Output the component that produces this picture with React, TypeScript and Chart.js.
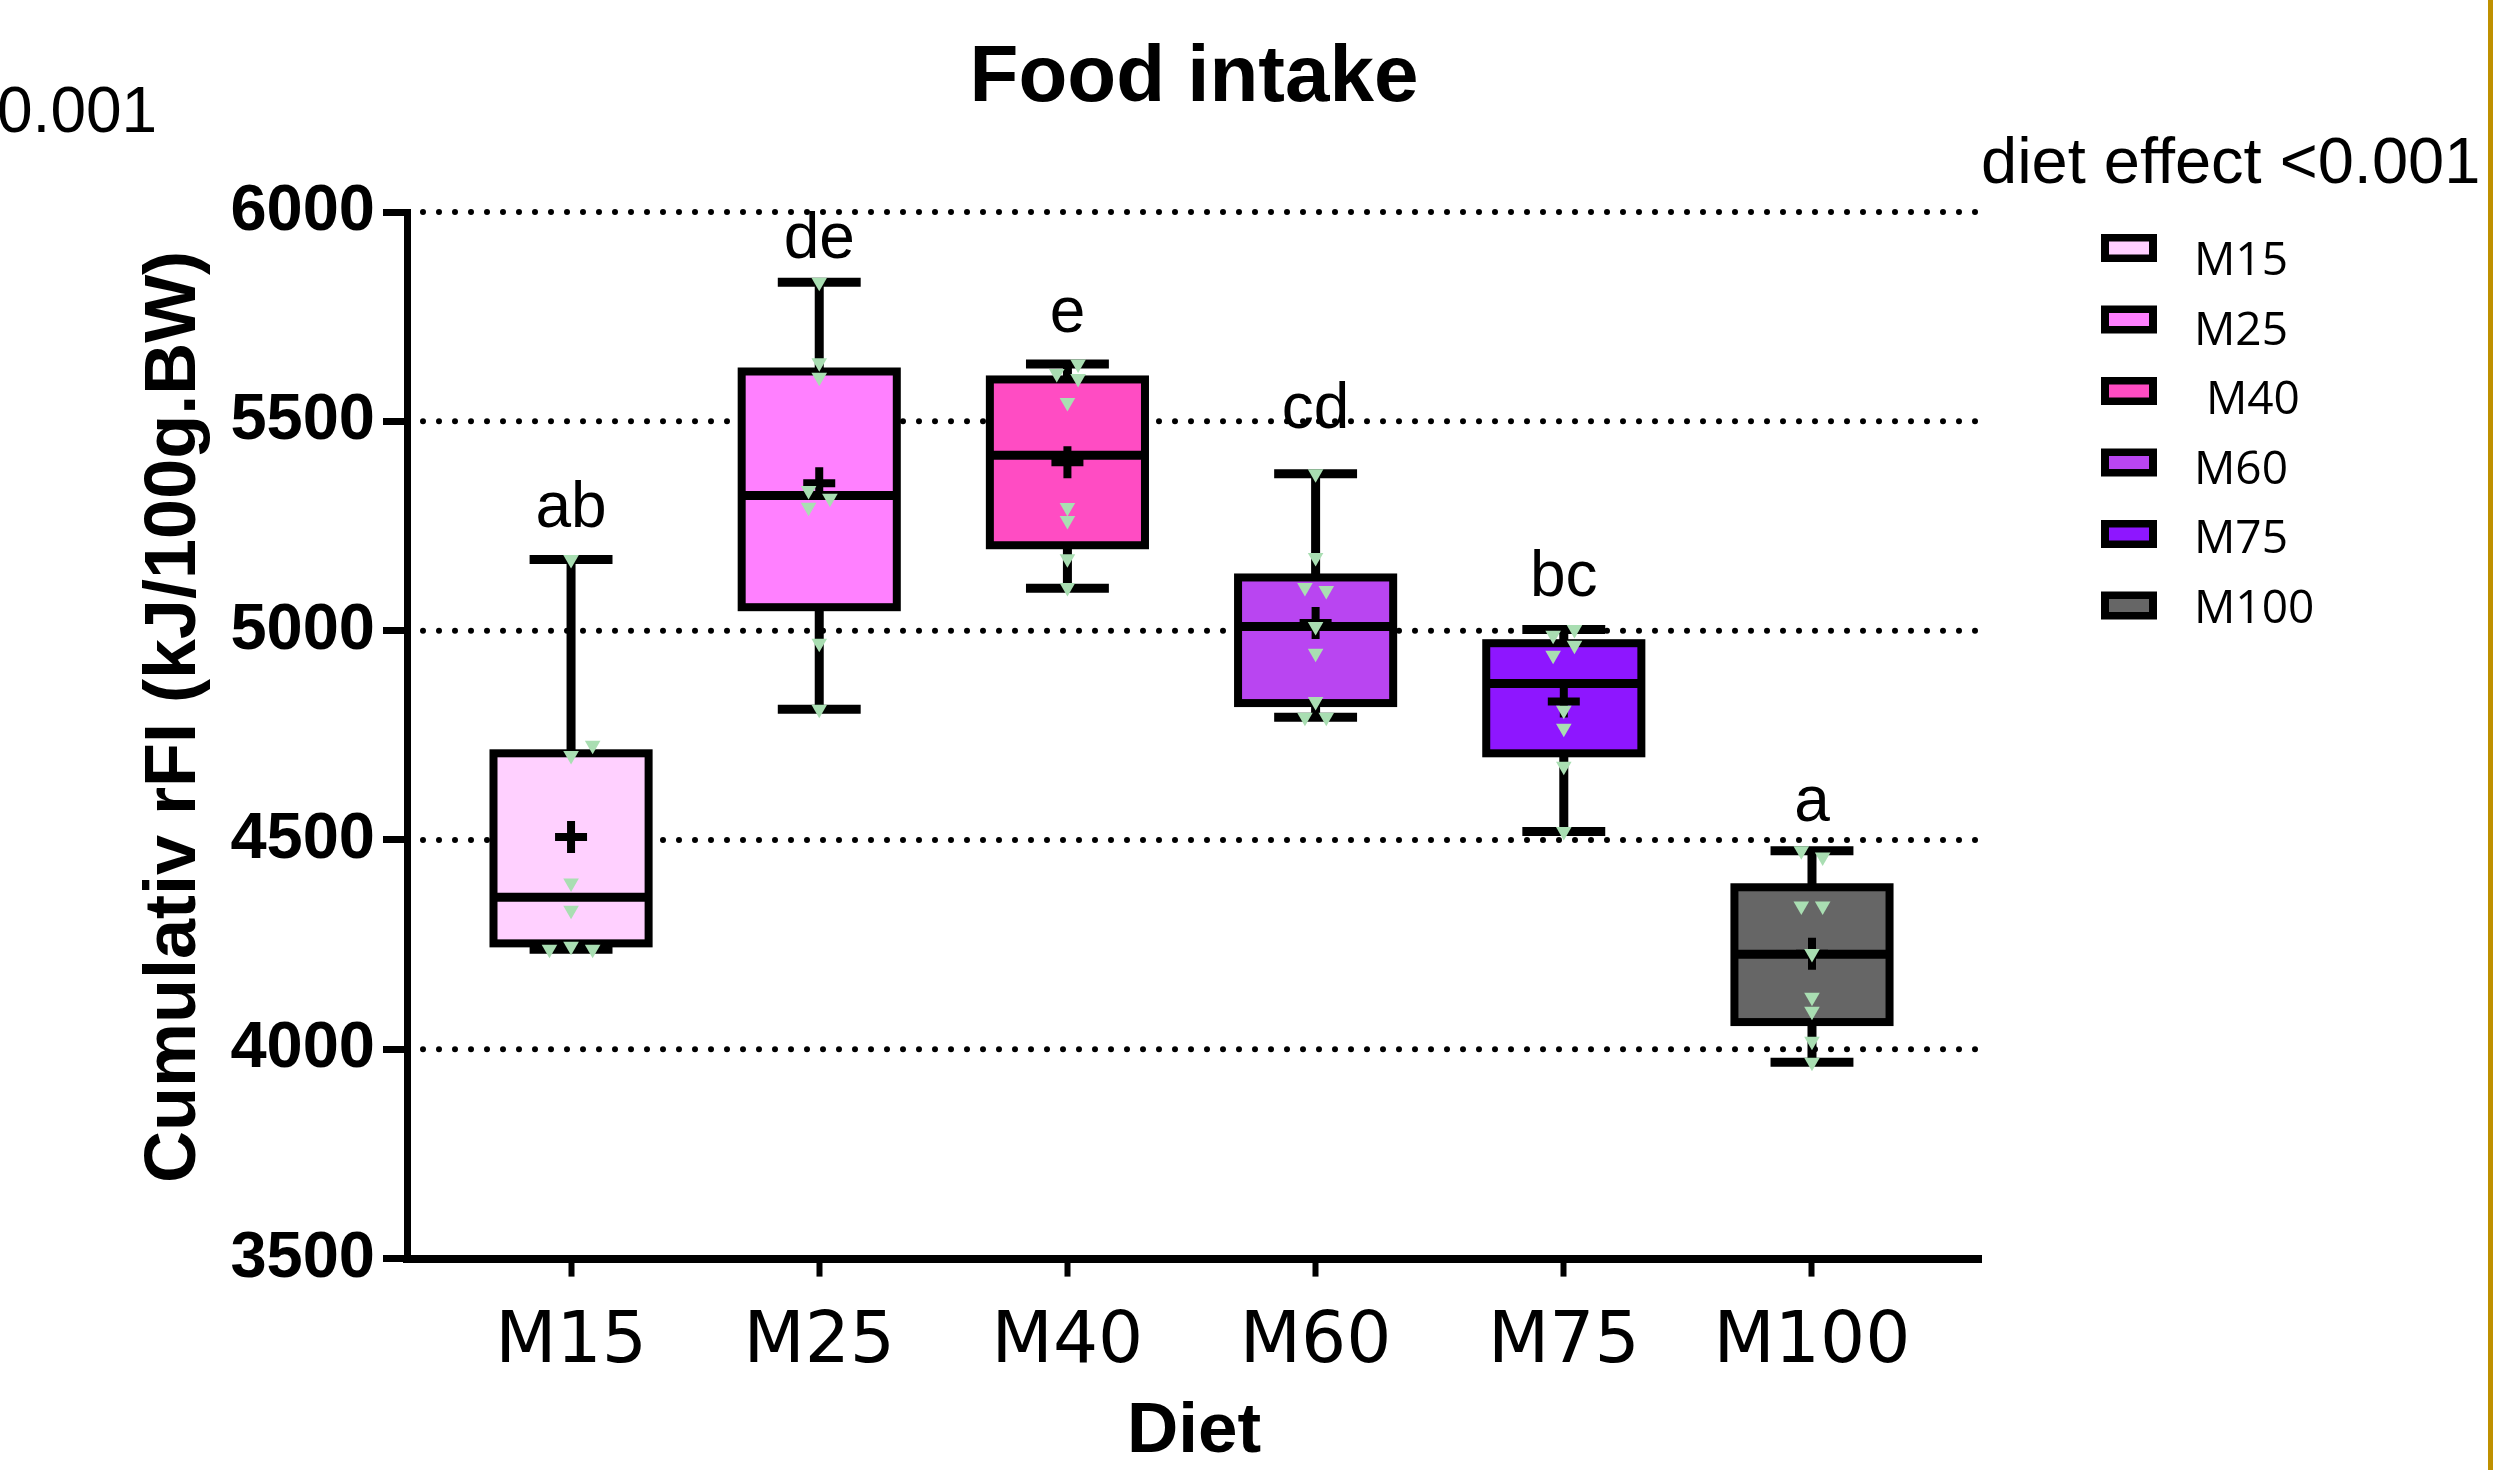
import React, { useEffect, useRef } from 'react';
import { Chart, registerables } from 'chart.js';

Chart.register(...registerables);

// ---------- data ----------
const categories = ['M15', 'M25', 'M40', 'M60', 'M75', 'M100'];
const legendLabels = ['M15', 'M25', ' M40', 'M60', 'M75', 'M100'];
const boxColors = ['#FFD0FF', '#FF80FF', '#FF4CC3', '#B945F1', '#8E16FF', '#666666'];

const whiskerMin = [4239, 4812, 5101, 4793, 4520, 3969];
const quartile1 = [4253, 5056, 5204, 4827, 4707, 4065];
const medians = [4363, 5323, 5419, 5010, 4874, 4227];
const quartile3 = [4707, 5619, 5600, 5127, 4970, 4387];
const whiskerMax = [5170, 5832, 5637, 5375, 5003, 4474];
const means = [4507, 5352, 5402, 5018, 4831, 4228];

const letters = ['ab', 'de', 'e', 'cd', 'bc', 'a'];
const letterY = [5247, 5889, 5713, 5483, 5082, 4545];

const yTicks = [3500, 4000, 4500, 5000, 5500, 6000];

const pointsM15 = [5170, 4726, 4702, 4397, 4332, 4239, 4246, 4239];
const pointsM25 = [5832, 5640, 5605, 5335, 5316, 5295, 4970, 4812];
const pointsM40 = [5637, 5614, 5602, 5545, 5294, 5263, 5172, 5103];
const pointsM60 = [5375, 5175, 5103, 5096, 5010, 4946, 4831, 4793, 4793];
const pointsM75 = [5003, 4989, 4965, 4941, 4810, 4767, 4676, 4520];
const pointsM100 = [4474, 4459, 4342, 4342, 4229, 4124, 4091, 4019, 3969];
const pointValues = [pointsM15, pointsM25, pointsM40, pointsM60, pointsM75, pointsM100];

const jitterM15 = [0, 0.087, 0, 0, 0, -0.087, 0, 0.087];
const jitterM25 = [0, 0, 0, -0.043, 0.043, -0.043, 0, 0];
const jitterM40 = [0.043, -0.043, 0.043, 0, 0, 0, 0, 0];
const jitterM60 = [0, 0, -0.043, 0.043, 0, 0, 0, -0.043, 0.043];
const jitterM75 = [0.043, -0.043, 0.043, -0.043, 0, 0, 0, 0];
const jitterM100 = [-0.043, 0.043, -0.043, 0.043, 0, 0, 0, 0, 0];
const pointJitter = [jitterM15, jitterM25, jitterM40, jitterM60, jitterM75, jitterM100];

// ---------- styles ----------
const W = 2495;
const H = 1470;
const LINE = 9;
const BOX_LINE = 8;
const CAP_HALF = 0.167; // in category units
const POINT_COLOR = '#A9DEB2';
const SANS = '"Liberation Sans", Arial, Helvetica, sans-serif';

const boxPlugin = {
  id: 'boxExtras',
  beforeDatasetsDraw(chart: any) {
    const { ctx, chartArea } = chart;
    const x = chart.scales.x;
    const y = chart.scales.y;
    ctx.save();
    // dotted grid lines
    ctx.strokeStyle = '#000';
    ctx.lineWidth = 6;
    ctx.lineCap = 'round';
    ctx.setLineDash([0, 16]);
    y.ticks.forEach((t: any) => {
      if (t.value === y.min) return;
      const py = y.getPixelForValue(t.value);
      ctx.beginPath();
      ctx.moveTo(chartArea.left + 16, py);
      ctx.lineTo(chartArea.right, py);
      ctx.stroke();
    });
    ctx.setLineDash([]);
    ctx.lineCap = 'butt';
    // whiskers and caps
    ctx.lineWidth = LINE;
    categories.forEach((_, i) => {
      const px = x.getPixelForValue(i);
      const yMin = y.getPixelForValue(whiskerMin[i]);
      const yMax = y.getPixelForValue(whiskerMax[i]);
      ctx.beginPath();
      ctx.moveTo(px, yMin);
      ctx.lineTo(px, yMax);
      ctx.stroke();
      const l = x.getPixelForValue(i - CAP_HALF);
      const r = x.getPixelForValue(i + CAP_HALF);
      ctx.beginPath();
      ctx.moveTo(l, yMin);
      ctx.lineTo(r, yMin);
      ctx.moveTo(l, yMax);
      ctx.lineTo(r, yMax);
      ctx.stroke();
    });
    ctx.restore();
  },
  afterDatasetDraw(chart: any, args: any) {
    if (args.index !== 0) return;
    const { ctx } = chart;
    const y = chart.scales.y;
    const meta = chart.getDatasetMeta(0);
    ctx.save();
    ctx.strokeStyle = '#000';
    meta.data.forEach((bar: any, i: number) => {
      const l = bar.x - bar.width / 2;
      const top = Math.min(bar.y, bar.base);
      const h = Math.abs(bar.base - bar.y);
      // box outline centred on the quartile edges
      ctx.lineWidth = BOX_LINE;
      ctx.lineJoin = 'miter';
      ctx.strokeRect(l, top, bar.width, h);
      // median
      const py = y.getPixelForValue(medians[i]);
      ctx.lineWidth = LINE;
      ctx.beginPath();
      ctx.moveTo(l, py);
      ctx.lineTo(l + bar.width, py);
      ctx.stroke();
    });
    ctx.restore();
  },
  afterDraw(chart: any) {
    const { ctx, chartArea } = chart;
    const x = chart.scales.x;
    const y = chart.scales.y;
    const cx = (chartArea.left + chartArea.right) / 2;
    ctx.save();
    ctx.fillStyle = '#000';
    ctx.textBaseline = 'alphabetic';

    ctx.textAlign = 'center';
    ctx.font = `bold 80px ${SANS}`;
    ctx.fillText('Food intake', cx, 101);

    ctx.textAlign = 'left';
    ctx.font = `64px ${SANS}`;
    ctx.fillText('0.001', -3, 132);

    ctx.font = `65px ${SANS}`;
    ctx.fillText('diet effect <0.001', chartArea.right, 183);

    ctx.textAlign = 'center';
    ctx.font = `bold 71px ${SANS}`;
    ctx.fillText('Diet', cx, 1452);

    ctx.save();
    ctx.translate(195, 717);
    ctx.rotate(-Math.PI / 2);
    ctx.font = `bold 72px ${SANS}`;
    ctx.fillText('Cumulativ rFI (kJ/100g.BW)', 0, 0);
    ctx.restore();

    ctx.font = `64px ${SANS}`;
    letters.forEach((l, i) => {
      ctx.fillText(l, x.getPixelForValue(i), y.getPixelForValue(letterY[i]));
    });

    // legend
    ctx.textAlign = 'left';
    ctx.font = '46px "Open Sans", "Noto Sans", sans-serif';
    legendLabels.forEach((lab, i) => {
      const cy = 248 + i * 71.5;
      ctx.fillStyle = '#000';
      ctx.fillRect(2101, cy - 14, 56, 28);
      ctx.fillStyle = boxColors[i];
      ctx.fillRect(2109, cy - 6.5, 40, 13);
      ctx.fillStyle = '#000';
      ctx.fillText(lab, 2194, 275 + i * 69.6);
    });

    // right edge rule
    ctx.fillStyle = '#BF9000';
    ctx.fillRect(2488, 0, 5, chart.height);
    ctx.restore();
  },
};

export default function App() {
  const ref = useRef<HTMLCanvasElement | null>(null);

  useEffect(() => {
    if (!ref.current) return;
    const scatterPoints: { x: number; y: number }[] = [];
    pointValues.forEach((vals, i) => {
      vals.forEach((v, j) => scatterPoints.push({ x: i + pointJitter[i][j], y: v }));
    });

    const chart = new Chart(ref.current, {
      type: 'bar',
      data: {
        datasets: [
          {
            type: 'bar',
            label: 'box',
            data: categories.map((_, i) => ({ x: i, y: [quartile1[i], quartile3[i]] })) as any,
            backgroundColor: boxColors,
            borderWidth: 0,
            borderSkipped: false,
            inflateAmount: 0,
            categoryPercentage: 1,
            barPercentage: 0.625,
            order: 3,
          } as any,
          {
            type: 'scatter',
            label: 'mean',
            data: means.map((m, i) => ({ x: i, y: m })),
            pointStyle: 'cross',
            pointRadius: 16,
            pointBorderWidth: 8,
            pointBorderColor: '#000',
            order: 2,
          } as any,
          {
            type: 'scatter',
            label: 'values',
            data: scatterPoints,
            pointStyle: 'triangle',
            pointRotation: 180,
            pointRadius: 9,
            pointBorderWidth: 0,
            pointBackgroundColor: POINT_COLOR,
            pointBorderColor: POINT_COLOR,
            order: 1,
          } as any,
        ],
      },
      options: {
        responsive: false,
        animation: false,
        devicePixelRatio: 1,
        events: [],
        layout: { padding: { left: 0, right: W - 1981, top: 212, bottom: 0 } },
        plugins: {
          legend: { display: false },
          title: { display: false },
          tooltip: { enabled: false },
        },
        scales: {
          x: {
            type: 'linear',
            min: -0.661,
            max: 5.681,
            offset: false,
            afterFit: (s: any) => {
              s.height = H - 1258.6;
            },
            afterBuildTicks: (s: any) => {
              s.ticks = categories.map((_, i) => ({ value: i }));
            },
            grid: {
              offset: false,
              drawOnChartArea: false,
              drawTicks: true,
              tickLength: 18,
              tickWidth: 6,
              tickColor: '#000',
            },
            border: { display: true, color: '#000', width: 8 },
            ticks: {
              autoSkip: false,
              maxRotation: 0,
              padding: 24,
              color: '#000',
              font: { family: '"DejaVu Sans", sans-serif', size: 71 },
              callback: (v: any) => categories[v] ?? '',
            },
          },
          y: {
            type: 'linear',
            min: 3500,
            max: 6000,
            afterFit: (s: any) => {
              s.width = 407;
            },
            afterBuildTicks: (s: any) => {
              s.ticks = yTicks.map((v) => ({ value: v }));
            },
            grid: {
              drawOnChartArea: false,
              drawTicks: true,
              tickLength: 24,
              tickWidth: 7,
              tickColor: '#000',
            },
            border: { display: true, color: '#000', width: 7 },
            ticks: {
              padding: 8,
              color: '#000',
              font: { family: SANS, size: 65, weight: 'bold' },
              callback: (v: any) => String(v),
            },
          },
        },
      } as any,
      plugins: [boxPlugin],
    });
    return () => chart.destroy();
  }, []);

  return (
    <div style={{ position: 'fixed', left: 0, top: 0, width: W, height: H, background: '#fff' }}>
      <canvas ref={ref} width={W} height={H} style={{ width: W, height: H, display: 'block' }} />
    </div>
  );
}
